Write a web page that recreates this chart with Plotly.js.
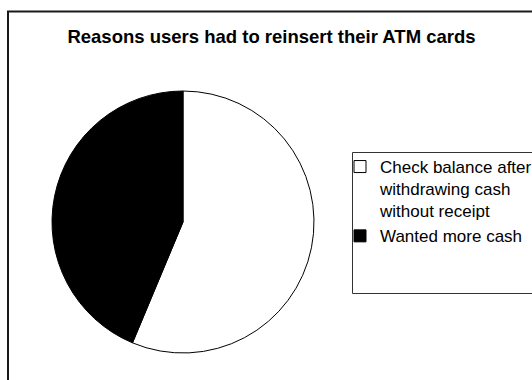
<!DOCTYPE html>
<html>
<head>
<meta charset="utf-8">
<script src="https://cdn.plot.ly/plotly-3.0.1.min.js"></script>
<style>html,body{margin:0;padding:0;background:#fff;}#chart{width:532px;height:380px;}</style>
</head>
<body>
<div id="chart"></div>
<script>
const categories = ["Check balance after<br>withdrawing cash<br>without receipt", "Wanted more cash"];
const values = [56.3, 43.7];
const sliceColors = ["#ffffff", "#000000"];
const chartTitle = "Reasons users had to reinsert their ATM cards";

const W = 532, H = 380;
const px = x => x / W;
const py = y => 1 - y / H;

const data = [{
  type: "pie",
  labels: categories,
  values: values,
  marker: {colors: sliceColors, line: {color: "#000000", width: 1}},
  textinfo: "none",
  hoverinfo: "label+percent",
  sort: false,
  direction: "clockwise",
  rotation: 0,
  domain: {x: [px(52), px(314)], y: [py(353), py(91)]}
}];

const layout = {
  width: W, height: H,
  margin: {l: 0, r: 0, t: 0, b: 0, autoexpand: false},
  paper_bgcolor: "#ffffff",
  font: {family: "Liberation Sans, Arial, sans-serif", color: "#000000"},
  title: {
    text: "<b>" + chartTitle + "</b>",
    font: {size: 18.5, family: "Liberation Sans, Arial, sans-serif", color: "#000000"},
    x: px(271.5), xanchor: "center",
    y: py(37), yanchor: "middle"
  },
  showlegend: true,
  legend: {
    x: px(340), xanchor: "left",
    y: py(149), yanchor: "top",
    valign: "top",
    font: {size: 17, family: "Liberation Sans, Arial, sans-serif", color: "#000000"},
    bgcolor: "rgba(0,0,0,0)",
    borderwidth: 0,
    traceorder: "normal"
  },
  shapes: [
    {type: "rect", xref: "paper", yref: "paper", x0: px(8), x1: px(560), y0: py(11.5), y1: py(400),
     line: {color: "#1a1a1a", width: 2}, fillcolor: "rgba(0,0,0,0)"},
    {type: "rect", xref: "paper", yref: "paper", x0: px(352.5), x1: px(560), y0: py(152.5), y1: py(293.5),
     line: {color: "#333333", width: 1}, fillcolor: "rgba(0,0,0,0)"}
  ]
};

Plotly.newPlot("chart", data, layout, {displayModeBar: false, staticPlot: true});
</script>
</body>
</html>
